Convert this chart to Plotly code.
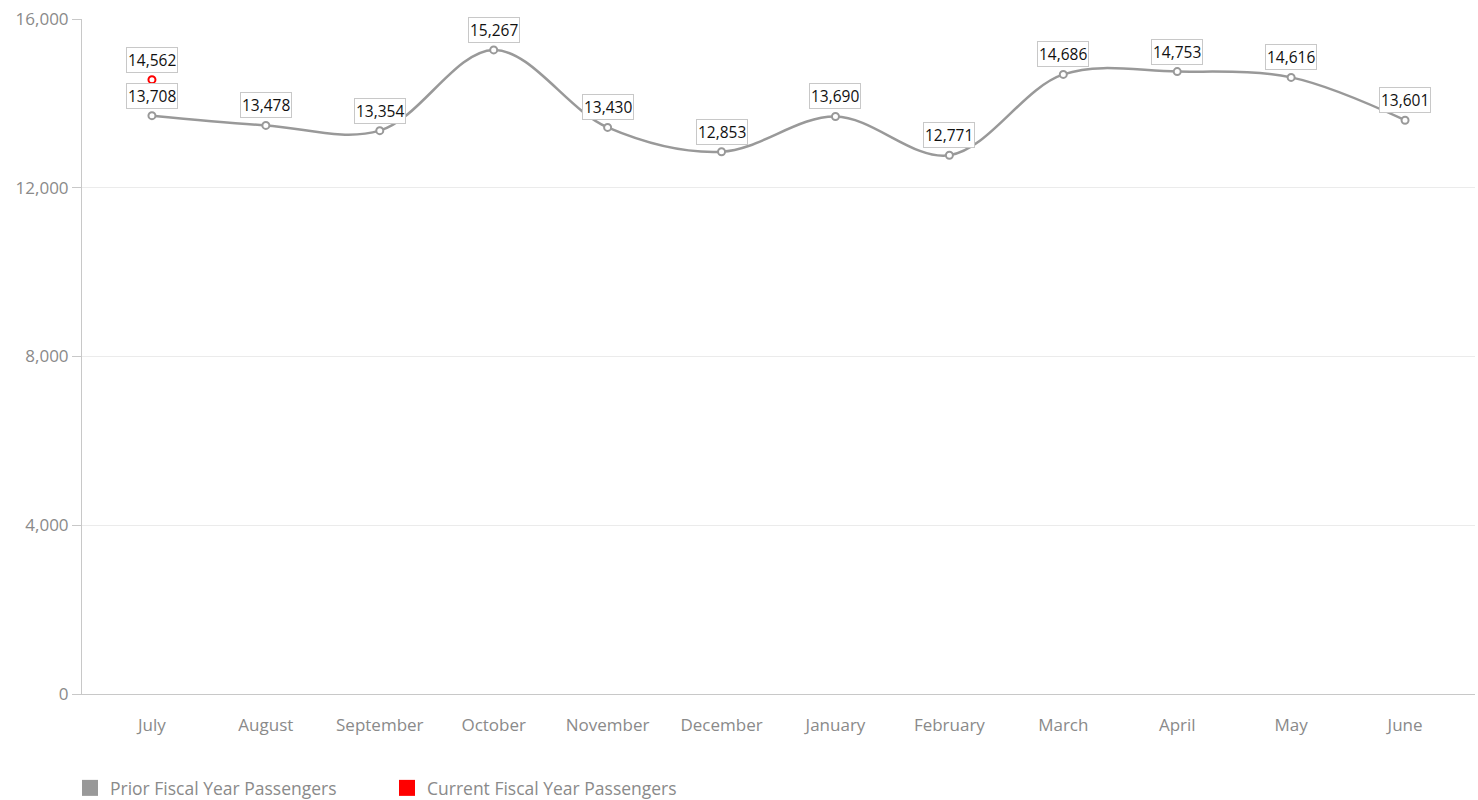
import plotly.graph_objects as go

months = ["July", "August", "September", "October", "November", "December",
          "January", "February", "March", "April", "May", "June"]
prior = [13708, 13478, 13354, 15267, 13430, 12853, 13690, 12771, 14686, 14753, 14616, 13601]
current_months = ["July"]
current = [14562]
y_ticks = [0, 4000, 8000, 12000, 16000]

GRAY = "#999999"
RED = "#ff0000"
FONT = "Open Sans"
TICK_GRAY = "#8a8a8a"

fig = go.Figure()
fig.add_trace(go.Scatter(
    x=months, y=prior, mode="lines+markers", line=dict(color=GRAY, width=2.5, shape="spline", smoothing=1.0),
    marker=dict(size=7, color="white", line=dict(color=GRAY, width=2)),
    showlegend=False, hoverinfo="skip"))
fig.add_trace(go.Scatter(
    x=current_months, y=current, mode="markers",
    marker=dict(size=7, color="white", line=dict(color=RED, width=2)),
    showlegend=False, hoverinfo="skip"))
# legend-only entries
fig.add_trace(go.Scatter(x=[None], y=[None], mode="markers", name="Prior Fiscal Year Passengers",
                         marker=dict(symbol="square", size=17, color=GRAY)))
fig.add_trace(go.Scatter(x=[None], y=[None], mode="markers", name="Current Fiscal Year Passengers",
                         marker=dict(symbol="square", size=17, color=RED)))

for m, v in list(zip(months, prior)) + list(zip(current_months, current)):
    fig.add_annotation(x=m, y=v, text=f"{v:,}", showarrow=False, yshift=20,
                       font=dict(family=FONT, size=15.5, color="#111"),
                       bgcolor="white", bordercolor="#c8c8c8", borderwidth=1, borderpad=1)

fig.update_layout(
    width=1478, height=800,
    margin=dict(l=82, r=3, t=19, b=106),
    paper_bgcolor="white", plot_bgcolor="white",
    font=dict(family=FONT, size=17, color=TICK_GRAY),
    xaxis=dict(type="category", range=[-0.614, 11.614], showgrid=False, automargin=False,
               showline=True, linecolor="#c8c8c8", linewidth=1, ticks="",
               ticklabelstandoff=16,
               tickfont=dict(size=17, color=TICK_GRAY), zeroline=False, fixedrange=True),
    yaxis=dict(range=[0, 16000], tickvals=y_ticks, tickformat=",", showgrid=True, automargin=False,
               gridcolor="#ebebeb", gridwidth=1, showline=True, linecolor="#c8c8c8",
               linewidth=1, ticks="outside", ticklen=9, tickcolor="#c8c8c8",
               tickfont=dict(size=17, color=TICK_GRAY), zeroline=False, fixedrange=True),
    legend=dict(orientation="h", xref="container", x=70 / 1478, xanchor="left",
                yref="container", y=12 / 800, yanchor="middle",
                font=dict(family=FONT, size=17.5, color=TICK_GRAY),
                entrywidth=272, entrywidthmode="pixels", itemwidth=30),
    showlegend=True,
)

post = (
    "var s=document.createElement('style');"
    "s.textContent='html,body{margin:0!important;padding:0!important;overflow:hidden!important;"
    "width:1478px;height:800px;} .plotly-graph-div{display:block;}';"
    "document.head.appendChild(s);"
)
fig.write_html("out.html", post_script=post, config={"displayModeBar": False})
